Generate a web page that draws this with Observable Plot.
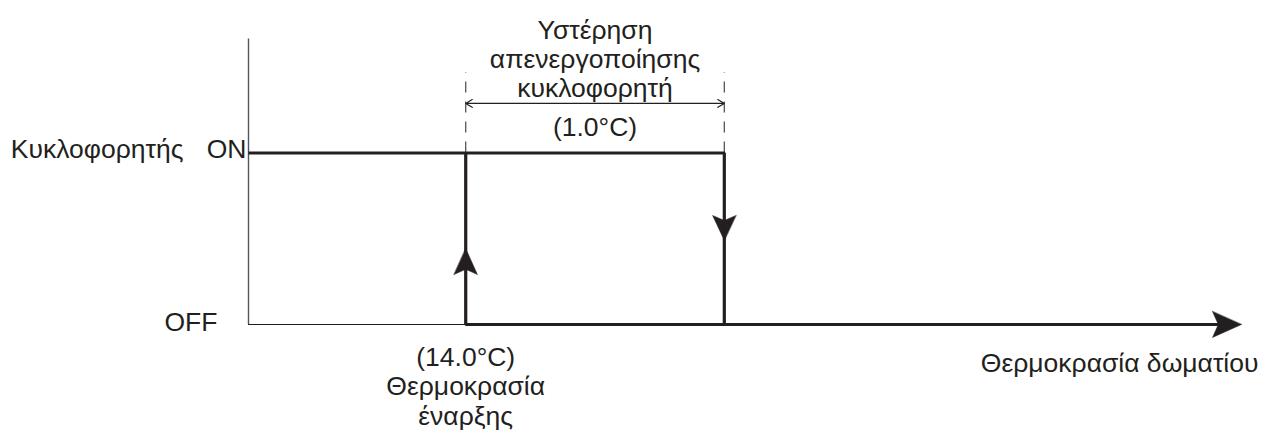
<!DOCTYPE html>
<html>
<head>
<meta charset="utf-8">
<script src="https://cdn.jsdelivr.net/npm/d3@7"></script>
<script src="https://cdn.jsdelivr.net/npm/@observablehq/plot@0.6"></script>
<style>
  html, body { margin: 0; padding: 0; background: #fff; }
  svg { overflow: visible; display: block; }
</style>
</head>
<body>
<div id="chart"></div>
<script>
// ---- data ----
const states = ["OFF", "ON"];             // y levels 0 / 1
const stateLabel = "Κυκλοφορητής";
const startTemp = 14.0;                    // Θερμοκρασία έναρξης
const hysteresis = 1.0;                    // Υστέρηση απενεργοποίησης
const stopTemp = startTemp + hysteresis;   // 15.0
const tempRange = [13.16, 17.0];           // room temperature axis extent
const startLabel = ["(14.0°C)", "Θερμοκρασία", "έναρξης"];
const hystLabel = ["Υστέρηση", "απενεργοποίησης", "κυκλοφορητή"];
const hystValue = "(1.0°C)";
const xTitle = "Θερμοκρασία δωματίου";

// ---- drawing ----
const ink = "#231f20";
const grey = "#555555";
const font = "Liberation Sans, Arial, sans-serif";
const fs = 26.5;
const lh = 1.11;

const stealth = {
  draw(ctx, l, r) {
    ctx.moveTo(0, -l);
    ctx.lineTo(r, 0);
    ctx.lineTo(0, -l * 0.2);
    ctx.lineTo(-r, 0);
    ctx.closePath();
  }
};

const [xmin, xmax] = tempRange;
const onPath = [
  {x: xmin, y: 1}, {x: stopTemp, y: 1}, {x: stopTemp, y: 0}
];
const startPath = [
  {x: startTemp, y: 1}, {x: startTemp, y: 0}, {x: xmax - 0.06, y: 0}
];
const mid = (startTemp + stopTemp) / 2;

const chart = Plot.plot({
  width: 1264,
  height: 430,
  x: {domain: tempRange, range: [248, 1241], axis: null},
  y: {domain: [0, 1], range: [324, 152.5], axis: null},
  marks: [
    // y axis line
    Plot.ruleX([xmin], {y1: 0, y2: 1.665, stroke: grey, strokeWidth: 1.4}),
    // thin OFF baseline before start temperature
    Plot.ruleY([0], {x1: xmin, x2: startTemp, stroke: ink, strokeWidth: 1.2}),
    // dashed guides
    Plot.ruleX([startTemp, stopTemp], {y1: 1, y2: 1.47, stroke: grey, strokeWidth: 1.3, strokeDasharray: "11,9"}),
    // hysteresis dimension arrows
    Plot.arrow([{a: mid, b: startTemp}, {a: mid, b: stopTemp}], {
      x1: "a", x2: "b", y1: () => 1.289, y2: () => 1.289,
      stroke: ink, strokeWidth: 1.2, headLength: 9.5, headAngle: 62
    }),
    // thick state lines
    Plot.line(onPath, {x: "x", y: "y", stroke: ink, strokeWidth: 3.2, strokeLinejoin: "miter", strokeLinecap: "butt"}),
    Plot.line(startPath, {x: "x", y: "y", stroke: ink, strokeWidth: 3.2, strokeLinejoin: "miter", strokeLinecap: "butt"}),
    // arrowheads
    Plot.vector([{x: startTemp, y: 0.443}], {x: "x", y: "y", rotate: 0, length: 26, r: 11.7, anchor: "end", shape: stealth, fill: ink, stroke: ink, strokeWidth: 0.5}),
    Plot.vector([{x: stopTemp, y: 0.49}], {x: "x", y: "y", rotate: 180, length: 25, r: 11.7, anchor: "end", shape: stealth, fill: ink, stroke: ink, strokeWidth: 0.5}),
    Plot.vector([{x: xmax, y: 0}], {x: "x", y: "y", rotate: 90, length: 29, r: 13, anchor: "end", shape: stealth, fill: ink, stroke: ink, strokeWidth: 0.5}),
    // state labels
    Plot.text([states[1]], {x: xmin, y: 1, text: d => d, textAnchor: "end", lineAnchor: "bottom", dx: -2, dy: 5, fontSize: fs, fontFamily: font, fill: ink}),
    Plot.text([stateLabel], {x: xmin, y: 1, text: d => d, textAnchor: "end", lineAnchor: "bottom", dx: -65, dy: 5, fontSize: fs, fontFamily: font, fill: ink}),
    Plot.text([states[0]], {x: xmin, y: 0, text: d => d, textAnchor: "end", lineAnchor: "bottom", dx: -31, dy: 6, fontSize: fs, fontFamily: font, fill: ink}),
    // hysteresis labels
    Plot.text([hystLabel.join("\n")], {x: mid, y: 1.289, text: d => d, textAnchor: "middle", lineAnchor: "bottom", dy: -6, lineHeight: lh, fontSize: fs, fontFamily: font, fill: ink}),
    Plot.text([hystValue], {x: mid, y: 1, text: d => d, textAnchor: "middle", lineAnchor: "bottom", dy: -17, fontSize: fs, fontFamily: font, fill: ink}),
    // start temperature labels
    Plot.text([startLabel.join("\n")], {x: startTemp, y: 0, text: d => d, textAnchor: "middle", lineAnchor: "bottom", dy: 100, lineHeight: lh, fontSize: fs, fontFamily: font, fill: ink}),
    // x title
    Plot.text([xTitle], {x: xmax, y: 0, text: d => d, textAnchor: "end", lineAnchor: "bottom", dx: 17, dy: 47, fontSize: fs, fontFamily: font, fill: ink})
  ]
});
document.getElementById("chart").appendChild(chart);
</script>
</body>
</html>
